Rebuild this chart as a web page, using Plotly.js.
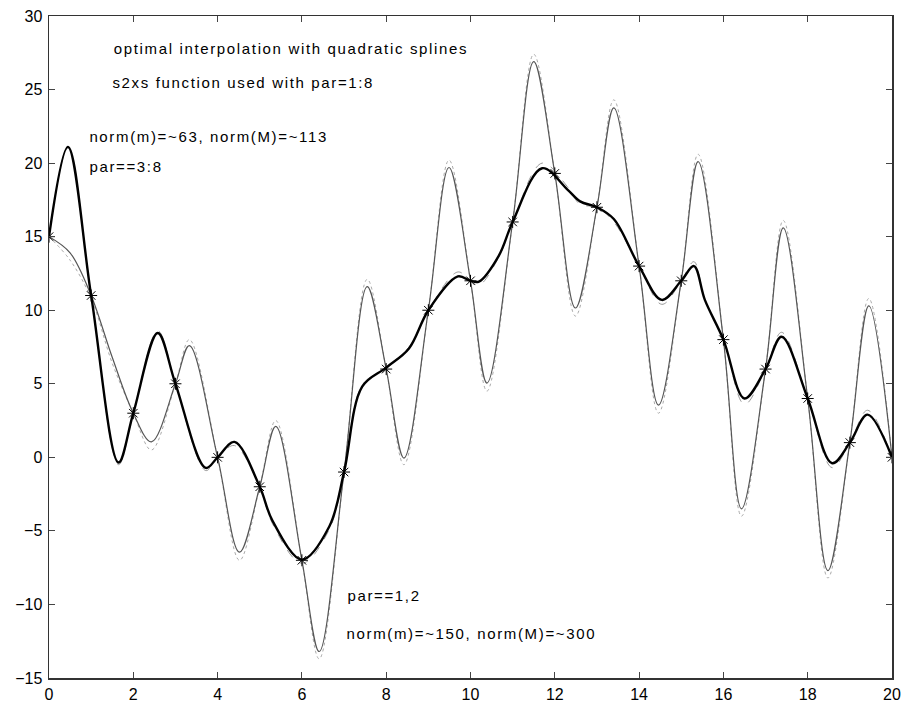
<!DOCTYPE html>
<html>
<head>
<meta charset="utf-8">
<script src="https://cdn.plot.ly/plotly-3.0.1.min.js"></script>
<style>
html,body{margin:0;padding:0;background:#fff;}
#chart{width:904px;height:706px;}
#chart .annotation-text{letter-spacing:1.65px;}
</style>
</head>
<body>
<div id="chart"></div>
<script>
// Interpolation data (stars at integer points)
const knotX = [0,1,2,3,4,5,6,7,8,9,10,11,12,13,14,15,16,17,18,19,20];
const knotY = [15,11,3,5,0,-2,-7,-1,6,10,12,16,19.3,17,13,12,8,6,4,1,0];

// par==1,2 curve (thin, strongly oscillating) - read points
const thinX = [0,0.5,1,1.5,2,2.43,3,3.33,4,4.52,5,5.38,6,6.41,7,7.55,8,8.42,9,9.49,10,10.39,11,11.5,12,12.49,13,13.4,14,14.46,15,15.4,16,16.43,17,17.42,18,18.48,19,19.45,20];
const thinY = [15,13.9,11,6.8,3,1.05,5,7.6,0,-6.45,-2,2.1,-7,-13.2,-1,11.6,6,-0.05,10,19.7,12,5.05,16,26.9,19.3,10.15,17,23.75,13,3.55,12,20.1,8,-3.5,6,15.6,4,-7.7,1,10.3,0];
const thinDotY = [15,13.4,10.8,6.4,3,0.5,5,8.0,0,-7.0,-2,2.5,-7,-13.7,-1,12.1,6,-0.5,10,20.2,12,4.5,16,27.4,19.3,9.6,17,24.3,13,3.0,12,20.6,8,-4.0,6,16.1,4,-8.2,1,10.8,0];

// par==3:8 curve (thick) - read points
const thickX = [0,0.45,1,1.65,2,2.58,3,3.72,4,4.4,5,5.3,6,6.65,7,7.43,8,8.54,9,9.7,10,10.2,10.67,11,11.7,12.3,12.6,13,13.4,14,14.54,15,15.3,15.56,16,16.5,17,17.38,18,18.58,19,19.42,20];
const thickY = [15,21.1,11,-0.35,3,8.45,5,-0.72,0,1.05,-2,-4.3,-6.95,-4.7,-1,4.8,6.1,7.4,10,12.3,12.0,11.95,13.7,16,19.65,18.2,17.4,17,16.2,13,10.7,12,13,10.7,8,4,6,8.2,4,-0.4,1,2.9,0];
const thickDotY = [15,21.1,11,-0.5,3,8.6,5,-0.9,0,0.8,-2,-4.5,-7.2,-4.9,-1,4.9,6.1,7.5,10,12.6,12.0,11.7,13.6,16,20.0,18.4,17.2,17,16.0,13,10.4,12,13.3,10.7,8,3.6,6,8.5,4,-0.7,1,3.2,0];

const xTicks = [0,2,4,6,8,10,12,14,16,18,20];
const yTicks = [-15,-10,-5,0,5,10,15,20,25,30];

const notes = [
  {x:2.34, y:27.8, t:'optimal interpolation with quadratic splines'},
  {x:2.06, y:25.5, t:'s2xs function used with par=1:8'},
  {x:1.39, y:21.8, t:'norm(m)=~63, norm(M)=~113'},
  {x:1.07, y:19.8, t:'par==3:8'},
  {x:7.20, y:-9.4, t:'par==1,2'},
  {x:7.53, y:-11.95, t:'norm(m)=~150, norm(M)=~300'}
];

const FONT = 'Liberation Sans, Arial, Helvetica, sans-serif';

const traces = [
  {x: thinX, y: thinDotY, mode:'lines', line:{color:'#aaaaaa', width:1, dash:'dot', shape:'spline', smoothing:1}, hoverinfo:'skip'},
  {x: thickX, y: thickDotY, mode:'lines', line:{color:'#999999', width:1, dash:'dash', shape:'spline', smoothing:1}, hoverinfo:'skip'},
  {x: thinX, y: thinY, mode:'lines', line:{color:'#555555', width:1.2, shape:'spline', smoothing:1}},
  {x: thickX, y: thickY, mode:'lines', line:{color:'#000000', width:2.4, shape:'spline', smoothing:1}},
  {x: knotX, y: knotY, mode:'markers', marker:{symbol:'asterisk-open', size:10, color:'#000', line:{color:'#000', width:1}}}
];

const layout = {
  width: 904, height: 706,
  margin: {l:49, r:12, t:16, b:28},
  paper_bgcolor:'#fff', plot_bgcolor:'#fff',
  showlegend:false,
  font:{family:FONT, size:16, color:'#000'},
  xaxis:{range:[0,20], tickvals:xTicks, ticktext:xTicks.map(String), ticks:'inside', ticklen:6, tickcolor:'#444',
         showline:true, linecolor:'#333', linewidth:1.5, mirror:'ticks', showgrid:false, zeroline:false,
         tickfont:{family:FONT, size:16}, ticklabelstandoff:1},
  yaxis:{range:[-15,30], tickvals:yTicks, ticktext:yTicks.map(v=> v<0 ? '\u2212'+Math.abs(v) : String(v)), ticks:'inside', ticklen:6, tickcolor:'#444',
         showline:true, linecolor:'#333', linewidth:1.5, mirror:'ticks', showgrid:false, zeroline:false,
         tickfont:{family:FONT, size:16}, ticklabelstandoff:2},
  annotations: notes.map(n => ({x:n.x, y:n.y, xref:'x', yref:'y', text:n.t, showarrow:false, xanchor:'left', yanchor:'middle', font:{family:FONT, size:15, color:'#000'}}))
};

Plotly.newPlot('chart', traces, layout, {displayModeBar:false, staticPlot:true});
</script>
</body>
</html>
